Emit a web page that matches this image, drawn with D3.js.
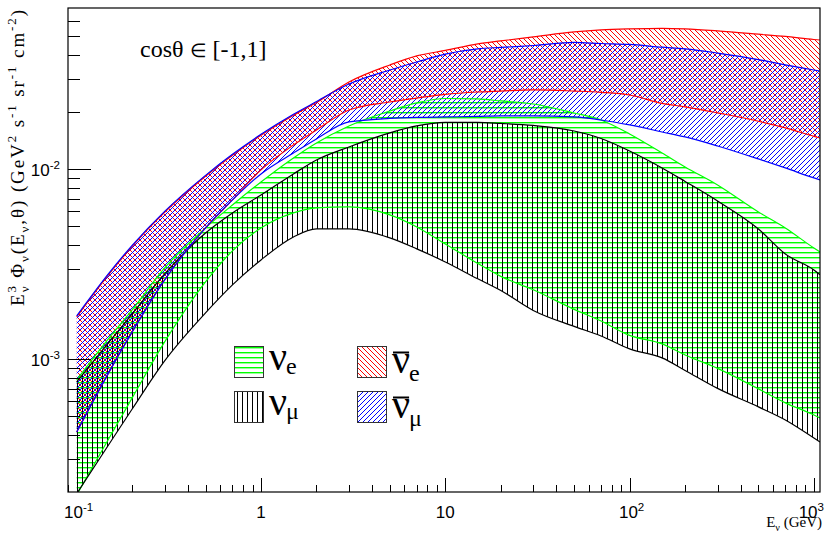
<!DOCTYPE html>
<html><head><meta charset="utf-8">
<script src="https://cdn.jsdelivr.net/npm/d3@7"></script>
<style>html,body{margin:0;padding:0;background:#fff;}svg{display:block;}</style>
</head><body>
<script>
// ---------------- data ----------------
const energy = [0.1, 0.15, 0.2, 0.3, 0.5, 0.7, 1, 1.5, 2, 3, 5, 7, 10, 15, 20, 30, 50, 70, 100, 150, 200, 300, 500, 700, 1000, 1080];
// nu_e (green, horizontal hatch)
const nueUpper = [0.000778, 0.001295, 0.001817, 0.003024, 0.004911, 0.006487, 0.008575, 0.01147, 0.01375, 0.0169, 0.02026, 0.02234, 0.02358, 0.02344, 0.02288, 0.02206, 0.01978, 0.01817, 0.01534, 0.01218, 0.01028, 0.00827, 0.00596, 0.00491, 0.00385, 0.00367];
const nueLower = [0.000193, 0.000385, 0.000626, 0.001233, 0.002552, 0.00372, 0.00491, 0.00589, 0.00626, 0.00633, 0.00575, 0.00497, 0.00404, 0.00319, 0.00273, 0.00232, 0.00183, 0.00159, 0.001335, 0.001204, 0.001053, 0.000895, 0.000698, 0.000589, 0.000509, 0.000491];
// nu_mu (black, vertical hatch)
const numuUpper = [0.00076, 0.001233, 0.001731, 0.002811, 0.00462, 0.00589, 0.00732, 0.00945, 0.01119, 0.0131, 0.01553, 0.0169, 0.01764, 0.01764, 0.01742, 0.0170, 0.0159, 0.01452, 0.01248, 0.01016, 0.00863, 0.00681, 0.00485, 0.00358, 0.00295, 0.00278];
const numuLower = [0.000196, 0.000358, 0.000547, 0.00098, 0.001753, 0.002461, 0.003332, 0.004402, 0.00485, 0.00485, 0.00435, 0.00381, 0.00325, 0.00265, 0.0023, 0.001806, 0.001488, 0.001326, 0.001133, 0.001016, 0.000873, 0.000702, 0.000561, 0.000479, 0.000385, 0.000367];
// anti nu_e (red, \\\ hatch)
const anueUpper = [0.00167, 0.002812, 0.00393, 0.00593, 0.00918, 0.01184, 0.01509, 0.01925, 0.02244, 0.0288, 0.0354, 0.0395, 0.0422, 0.0457, 0.0474, 0.0497, 0.0528, 0.0541, 0.0548, 0.0552, 0.0548, 0.0535, 0.0514, 0.0500, 0.0482, 0.0479];
const anueLower = [0.000414, 0.000858, 0.001392, 0.002614, 0.004911, 0.006893, 0.00992, 0.01342, 0.0161, 0.0205, 0.0226, 0.0237, 0.0248, 0.0255, 0.0258, 0.0262, 0.0258, 0.0254, 0.0246, 0.0222, 0.0213, 0.0198, 0.0179, 0.0165, 0.0149, 0.0146];
// anti nu_mu (blue, /// hatch)
const anumuUpper = [0.00169, 0.002846, 0.003977, 0.006004, 0.009288, 0.01198, 0.01527, 0.01948, 0.02271, 0.0281, 0.0333, 0.0367, 0.0404, 0.0430, 0.0438, 0.0448, 0.0465, 0.0459, 0.0454, 0.0439, 0.0430, 0.0409, 0.0378, 0.0354, 0.0333, 0.0329];
const anumuLower = [0.000414, 0.000858, 0.001392, 0.002614, 0.004911, 0.006893, 0.00945, 0.01218, 0.01444, 0.01774, 0.01851, 0.01874, 0.01885, 0.01897, 0.01908, 0.01908, 0.01885, 0.01817, 0.01711, 0.01571, 0.01479, 0.01326, 0.01133, 0.01016, 0.0090, 0.00879];

const xMajorTicks = [0.1, 1, 10, 100, 1000];
const xTickLabels = [["10", "-1"], ["1", ""], ["10", ""], ["10", "2"], ["10", "3"]];
const yMajorTicks = [0.001, 0.01];
const yTickLabels = [["10", "-3"], ["10", "-2"]];

// ---------------- layout ----------------
const W = 825, H = 533;
const L = 68, R = 820, T = 8, B = 492;
const sans = "'Liberation Sans', Arial, sans-serif";
const serif = "'Liberation Serif', 'Times New Roman', serif";

const svg = d3.select("body").append("svg").attr("width", W).attr("height", H);
const x = d3.scaleLog().domain([0.0897, 1079]).range([L, R]);
const y = d3.scaleLog().domain([2.0e-4, 0.0706]).range([B, T]);

const defs = svg.append("defs");
defs.append("clipPath").attr("id", "clip").append("rect")
  .attr("x", L).attr("y", T).attr("width", R - L).attr("height", B - T);

function hatch(id, color, kind) {
  const p = defs.append("pattern").attr("id", id).attr("patternUnits", "userSpaceOnUse")
    .attr("x", 0).attr("y", 0);
  if (kind === "h") {
    p.attr("width", 10).attr("height", 5);
    p.append("rect").attr("x", 0).attr("y", 2).attr("width", 10).attr("height", 1.4).attr("fill", color);
  } else if (kind === "v") {
    p.attr("width", 5).attr("height", 10);
    p.append("rect").attr("x", 2).attr("y", 0).attr("width", 1).attr("height", 10).attr("fill", color);
  } else {
    p.attr("width", 5).attr("height", 5);
    const d = kind === "d1"
      ? "M-1,4 L1,6 M0,0 L5,5 M4,-1 L6,1"
      : "M-1,1 L1,-1 M0,5 L5,0 M4,6 L6,4";
    p.append("path").attr("d", d).attr("stroke", color).attr("stroke-width", 1)
      .attr("fill", "none").attr("shape-rendering", "crispEdges");
  }
}
hatch("pGreen", "#00ff00", "h");
hatch("pBlack", "#000000", "v");
hatch("pRed", "#ff0000", "d1");
hatch("pBlue", "#0000ff", "d2");

const series = [
  { up: nueUpper, lo: nueLower, pat: "pGreen", col: "#00ff00" },
  { up: numuUpper, lo: numuLower, pat: "pBlack", col: "#000000" },
  { up: anueUpper, lo: anueLower, pat: "pRed", col: "#ff0000" },
  { up: anumuUpper, lo: anumuLower, pat: "pBlue", col: "#0000ff" }
];

const plot = svg.append("g").attr("clip-path", "url(#clip)");
const line = arr => d3.line().x((d, i) => x(energy[i])).y((d, i) => y(arr[i])).curve(d3.curveMonotoneX)(energy);
const areaC = (up, lo) => d3.area().x((d, i) => x(energy[i])).y0((d, i) => y(lo[i])).y1((d, i) => y(up[i])).curve(d3.curveMonotoneX)(energy);

series.forEach(s => {
  plot.append("path").attr("d", areaC(s.up, s.lo)).attr("fill", `url(#${s.pat})`);
});
series.forEach(s => {
  plot.append("path").attr("d", line(s.up)).attr("fill", "none").attr("stroke", s.col).attr("stroke-width", 1.2);
  plot.append("path").attr("d", line(s.lo)).attr("fill", "none").attr("stroke", s.col).attr("stroke-width", 1.2);
});

// ---------------- axes ----------------
const axes = svg.append("g").attr("stroke", "#000").attr("stroke-width", 1);
svg.append("rect").attr("x", L).attr("y", T).attr("width", R - L).attr("height", B - T)
  .attr("fill", "none").attr("stroke", "#000").attr("stroke-width", 1.2);

const xTicks = [];
for (let e = -2; e <= 3; e++) for (let m = 1; m <= 9; m++) {
  const v = m * Math.pow(10, e);
  if (v >= x.domain()[0] && v <= x.domain()[1]) xTicks.push({ v, major: m === 1 });
}
xTicks.forEach(t => {
  const px = Math.round(x(t.v)) + 0.5;
  axes.append("line").attr("x1", px).attr("x2", px).attr("y1", B).attr("y2", B - (t.major ? 14 : 7));
});
const yTicks = [];
for (let e = -4; e <= -1; e++) for (let m = 1; m <= 9; m++) {
  const v = m * Math.pow(10, e);
  if (v > y.domain()[0] * 1.01 && y(v) > T + 3) yTicks.push({ v, major: m === 1 });
}
yTicks.forEach(t => {
  const py = Math.round(y(t.v)) + 0.5;
  axes.append("line").attr("x1", L).attr("x2", L + (t.major ? 23 : 12)).attr("y1", py).attr("y2", py);
});

function rich(sel, parts, size) {
  let cur = 0;
  parts.forEach(p => {
    const [t, s, dx, fs] = p;
    const target = s === "sup" ? -size * 0.42 : s === "sub" ? size * 0.28 : 0;
    const ts = sel.append("tspan").attr("dy", target - cur).text(t);
    if (s) ts.attr("font-size", size * 0.68);
    if (fs) ts.attr("font-size", fs);
    if (dx) ts.attr("dx", dx);
    cur = target;
  });
}

xMajorTicks.forEach((v, i) => {
  const [b, e] = xTickLabels[i];
  const last = i === xMajorTicks.length - 1;
  const t = svg.append("text").attr("x", last ? 824 : x(v) + (e ? 2 : 0)).attr("y", 518)
    .attr("text-anchor", last ? "end" : "middle").attr("font-family", sans).attr("font-size", 17);
  rich(t, e ? [[b, ""], [e, "sup"]] : [[b, ""]], 17);
});
yMajorTicks.forEach((v, i) => {
  const [b, e] = yTickLabels[i];
  const t = svg.append("text").attr("x", 60).attr("y", y(v) + 7)
    .attr("text-anchor", "end").attr("font-family", sans).attr("font-size", 17);
  rich(t, [[b, ""], [e, "sup"]], 17);
});

// axis titles
const xt = svg.append("text").attr("x", 822).attr("y", 527).attr("text-anchor", "end")
  .attr("font-family", serif).attr("font-size", 15);
rich(xt, [["E", ""], ["ν", "sub"], [" (GeV)", ""]], 15);

const yt = svg.append("text").attr("transform", `translate(24,10) rotate(-90)`)
  .attr("text-anchor", "end").attr("font-family", serif).attr("font-size", 19)
  .attr("textLength", 296).attr("lengthAdjust", "spacing");
rich(yt, [["E", ""], ["3", "sup"], ["ν", "sub", -8], [" Φ", ""], ["ν", "sub"], ["(E", ""], ["ν", "sub"], [",θ) (GeV", ""], ["2", "sup"], [" s", ""], ["-1", "sup"], [" sr", ""], ["-1", "sup"], [" cm", ""], ["-2", "sup"], [")", ""]], 19);

// annotation
const ann = svg.append("text").attr("x", 140).attr("y", 57).attr("font-family", serif).attr("font-size", 24);
ann.append("tspan").text("cosθ ");
ann.append("tspan").attr("font-size", 19).text("∈");
ann.append("tspan").text(" [-1,1]");

// ---------------- legend ----------------
const legend = [
  { pat: "pGreen", sub: "e", bar: false, bx: 234, by: 346 },
  { pat: "pBlack", sub: "μ", bar: false, bx: 234, by: 391 },
  { pat: "pRed", sub: "e", bar: true, bx: 357, by: 346 },
  { pat: "pBlue", sub: "μ", bar: true, bx: 357, by: 391 }
];
legend.forEach(l => {
  svg.append("rect").attr("x", l.bx + 0.5).attr("y", l.by + 0.5).attr("width", 29).attr("height", 31)
    .attr("fill", "#fff").attr("stroke", "none");
  svg.append("rect").attr("x", l.bx + 0.5).attr("y", l.by + 0.5).attr("width", 29).attr("height", 31)
    .attr("fill", `url(#${l.pat})`).attr("stroke", "#333").attr("stroke-width", 1);
  const base = l.by + (l.bar ? 27 : 24);
  const nu = svg.append("text").attr("x", l.bx + 35).attr("y", base)
    .attr("font-family", serif).attr("font-size", 40).text("ν");
  const w = nu.node().getComputedTextLength();
  svg.append("text").attr("x", l.bx + 35 + w - 1).attr("y", base + (l.bar ? 8 : 4))
    .attr("font-family", serif).attr("font-size", 24).text(l.sub);
  if (l.bar) {
    svg.append("line").attr("x1", l.bx + 36).attr("x2", l.bx + 34 + w).attr("y1", l.by + 6.5).attr("y2", l.by + 6.5)
      .attr("stroke", "#000").attr("stroke-width", 2);
  }
});
</script>
</body></html>
